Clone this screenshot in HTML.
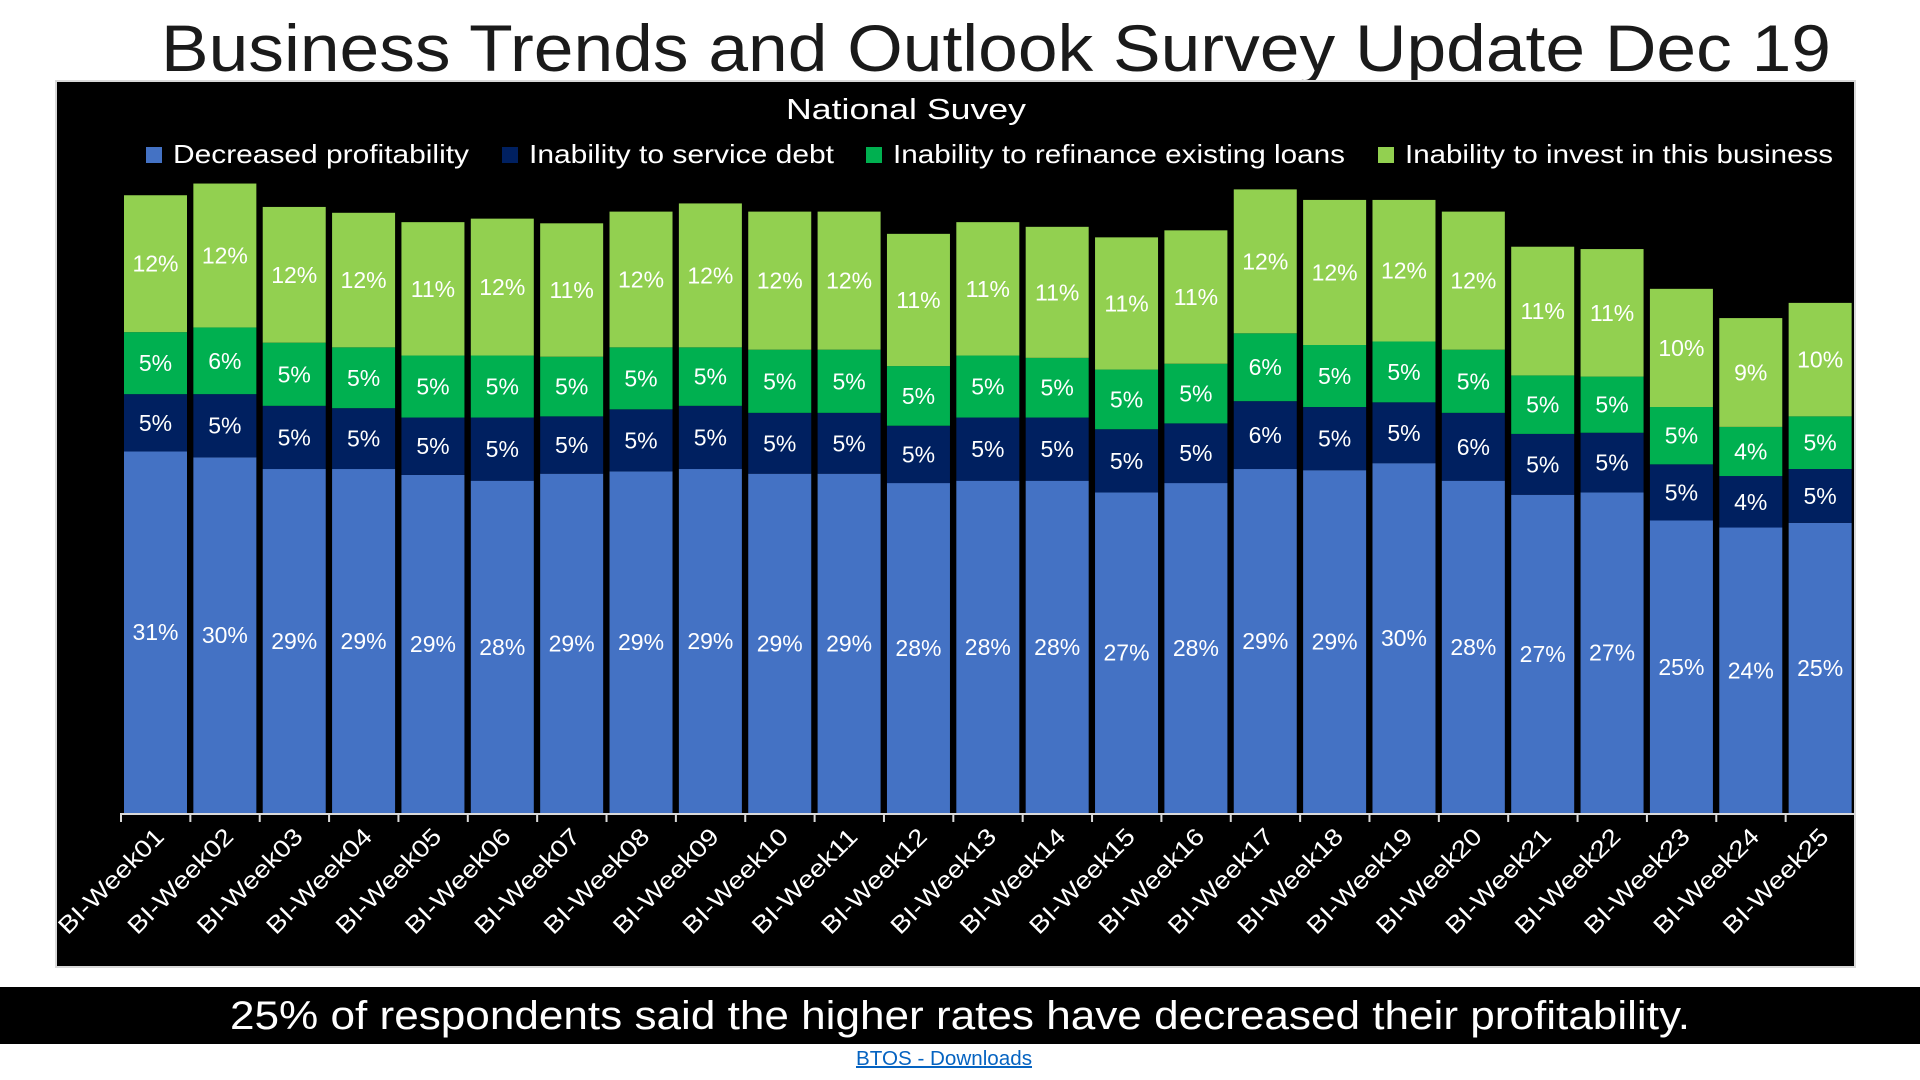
<!DOCTYPE html>
<html><head><meta charset="utf-8"><style>
html,body{margin:0;padding:0;background:#fff;width:1920px;height:1080px;overflow:hidden}
svg{display:block}
text{font-family:"Liberation Sans",sans-serif}
</style></head><body>
<svg id="chart" width="1920" height="1080" viewBox="0 0 1920 1080">
<text x="996" y="71" font-size="66" fill="#1a1a1a" text-anchor="middle" textLength="1670" lengthAdjust="spacingAndGlyphs">Business Trends and Outlook Survey  Update Dec 19</text>
<rect x="56" y="81" width="1799" height="886" fill="#000" stroke="#d9d9d9" stroke-width="2"/>
<text x="906" y="119" font-size="29" fill="#fff" text-anchor="middle" textLength="240" lengthAdjust="spacingAndGlyphs">National Suvey</text>
<g id="legend"></g>
<g id="bars"></g>
<g id="axis"></g>
<rect x="0" y="987" width="1920" height="57" fill="#000"/>
<text x="960" y="1029" font-size="40" fill="#fff" text-anchor="middle" textLength="1460" lengthAdjust="spacingAndGlyphs">25% of respondents said the higher rates have decreased their profitability.</text>
<a><text x="944" y="1065" font-size="20" fill="#0563C1" text-anchor="middle" text-decoration="underline" textLength="176" lengthAdjust="spacingAndGlyphs">BTOS - Downloads</text></a>
</svg>
<script>
const categories = ["BI-Week01","BI-Week02","BI-Week03","BI-Week04","BI-Week05","BI-Week06","BI-Week07","BI-Week08","BI-Week09","BI-Week10","BI-Week11","BI-Week12","BI-Week13","BI-Week14","BI-Week15","BI-Week16","BI-Week17","BI-Week18","BI-Week19","BI-Week20","BI-Week21","BI-Week22","BI-Week23","BI-Week24","BI-Week25"];
const profitability = [30.9,30.4,29.4,29.4,28.9,28.4,29.0,29.2,29.4,29.0,29.0,28.2,28.4,28.4,27.4,28.2,29.4,29.3,29.9,28.4,27.2,27.4,25.0,24.4,24.8];
const serviceDebt = [4.9,5.4,5.4,5.2,4.9,5.4,4.9,5.3,5.4,5.2,5.2,4.9,5.4,5.4,5.4,5.1,5.8,5.4,5.2,5.8,5.2,5.1,4.8,4.4,4.6];
const refinance = [5.3,5.7,5.4,5.2,5.3,5.3,5.1,5.3,5.0,5.4,5.4,5.1,5.3,5.1,5.1,5.1,5.8,5.3,5.2,5.4,5.0,4.8,4.9,4.2,4.5];
const invest = [11.7,12.3,11.6,11.5,11.4,11.7,11.4,11.6,12.3,11.8,11.8,11.3,11.4,11.2,11.3,11.4,12.3,12.4,12.1,11.8,11.0,10.9,10.1,9.3,9.7];
const seriesNames = ["Decreased profitability","Inability to service debt","Inability to refinance existing loans","Inability to invest in this business"];
const seriesColors = ["#4472C4","#002060","#00B050","#92D050"];

const NS="http://www.w3.org/2000/svg";
const plotLeft=121, plotRight=1855, baseY=813, pxPerPct=11.7;
const step=(plotRight-plotLeft)/categories.length, barW=63;
const xPos=i=>plotLeft+i*step+3;
const yScale=v=>v*pxPerPct;
function mk(tag,attrs,parent){const e=document.createElementNS(NS,tag);for(const k in attrs)e.setAttribute(k,attrs[k]);parent.appendChild(e);return e;}

const series=[profitability,serviceDebt,refinance,invest];
const keys=["profitability","service-debt","refinance","invest"];
const barsG=document.getElementById('bars');
categories.forEach((c,i)=>{
  let y=baseY;
  series.forEach((s,k)=>{
    const h=yScale(s[i]);
    const r=mk('rect',{x:xPos(i),y:y-h,width:barW,height:h,fill:seriesColors[k]},barsG);
    
    
    const t=mk('text',{x:xPos(i)+barW/2,y:y-h/2+8,'font-size':23,fill:'#fff','text-anchor':'middle'},barsG);
    t.textContent=Math.round(s[i])+'%';
    
    
    y-=h;
  });
});

const axisG=document.getElementById('axis');
const al=mk('line',{x1:plotLeft,y1:baseY+1,x2:plotRight,y2:baseY+1,stroke:'#d9d9d9','stroke-width':2},axisG);


for(let i=0;i<=categories.length;i++){
  const x=plotLeft+i*step;
  const tk=mk('line',{x1:x,y1:baseY,x2:x,y2:baseY+9,stroke:'#d9d9d9','stroke-width':2},axisG);
  
  
}
categories.forEach((c,i)=>{
  const cx=xPos(i)+barW/2+10, cy=838;
  const t=mk('text',{x:cx,y:cy,'font-size':24,fill:'#fff','text-anchor':'end',textLength:138,lengthAdjust:'spacingAndGlyphs',transform:`rotate(-45 ${cx} ${cy})`},axisG);
  t.textContent=c;
  
  
});

const legG=document.getElementById('legend');
const legSq=[146,502,866,1378], legW=[296,305,452,428];
seriesNames.forEach((n,k)=>{
  const r=mk('rect',{x:legSq[k],y:147,width:16,height:16,fill:seriesColors[k]},legG);
  
  
  const t=mk('text',{x:legSq[k]+27,y:163,'font-size':26,fill:'#fff',textLength:legW[k],lengthAdjust:'spacingAndGlyphs'},legG);
  t.textContent=n;
  
  
});
</script>
</body></html>
